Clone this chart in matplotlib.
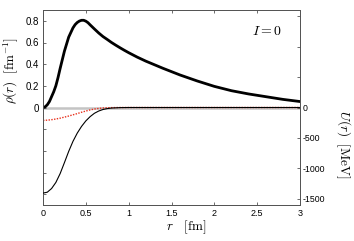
import numpy as np
import matplotlib
matplotlib.use("Agg")
import matplotlib.pyplot as plt
from matplotlib.ticker import FixedLocator, FixedFormatter

plt.rcParams['mathtext.fontset'] = 'cm'
plt.rcParams['font.family'] = ['Liberation Sans', 'DejaVu Sans']

# density rho(r)
r_rho = [0, 0.025, 0.05, 0.075, 0.1, 0.125, 0.15, 0.175, 0.2, 0.25, 0.3, 0.35, 0.375, 0.4, 0.425,
         0.45, 0.475, 0.5, 0.525, 0.55, 0.6, 0.65, 0.7, 0.75, 0.8, 0.85, 0.9, 0.95, 1.0, 1.1,
         1.2, 1.4, 1.6, 1.8, 2.0, 2.2, 2.4, 2.6, 2.8, 3.0]
rho = [0, 0.006, 0.025, 0.055, 0.10, 0.145, 0.20, 0.275, 0.36, 0.52, 0.65, 0.735, 0.765, 0.785, 0.798,
       0.805, 0.805, 0.797, 0.783, 0.763, 0.725, 0.688, 0.655, 0.628, 0.60, 0.575, 0.551, 0.528, 0.506, 0.465,
       0.428, 0.362, 0.30, 0.245, 0.195, 0.155, 0.125, 0.10, 0.075, 0.055]

# potential U(r) (thin black)
r_U = [0, 0.05, 0.1, 0.15, 0.2, 0.25, 0.3, 0.35, 0.4, 0.45, 0.5, 0.55, 0.6, 0.65, 0.7, 0.75,
       0.8, 0.9, 1.0, 1.5, 2.0, 2.5, 3.0]
U = [-1405, -1390, -1330, -1230, -1085, -905, -720, -555, -420, -310, -220, -150, -95, -58, -33, -18,
     -9, -2, 0, 0, 0, 0, 0]

# second potential (red dotted)
U_red = [-212, -208, -200, -189, -175, -158, -140, -120, -100, -78, -58, -40, -25, -15, -8, -4,
         -2, 0, 0, 0, 0, 0, 0]

xticks = [0, 0.5, 1, 1.5, 2, 2.5, 3]
xticklabels = ['0', '0.5', '1', '1.5', '2', '2.5', '3']
lticks = [-0.8, -0.6, -0.4, -0.2, 0, 0.2, 0.4, 0.6, 0.8]
lticklabels = ['', '', '', '', '0', '0.2', '0.4', '0.6', '0.8']
rticks = [-1500, -1000, -500, 0, 500, 1000, 1500]
rticklabels = ['-1500', '-1000', '-500', '0', '', '', '']

fig = plt.figure(figsize=(3.54, 2.41), dpi=100)
ax = fig.add_axes([43/354, 1-205/241, 257/354, 195/241])
ax2 = ax.twinx()

ax.axhline(0, color='#c4c4c4', lw=1.8, zorder=1)
ax.plot(r_rho, rho, color='black', lw=2.0, zorder=3, solid_joinstyle='round')
ax2.plot(r_U, U_red, color='#e8301c', lw=1.0, ls=(0, (1, 1)), zorder=2)
ax2.plot(r_U, U, color='black', lw=0.8, zorder=3)

ax.set_xlim(0, 3)
ax.set_ylim(-0.9, 0.9)
ax2.set_ylim(-1600, 1600)

ax.xaxis.set_major_locator(FixedLocator(xticks))
ax.xaxis.set_major_formatter(FixedFormatter(xticklabels))
ax.yaxis.set_major_locator(FixedLocator(lticks))
ax.yaxis.set_major_formatter(FixedFormatter(lticklabels))
ax2.yaxis.set_major_locator(FixedLocator(rticks))
ax2.yaxis.set_major_formatter(FixedFormatter(rticklabels))

ax.tick_params(axis='x', direction='in', top=True, length=2.5, width=0.5, labelsize=6.5, pad=3, colors='#333333', labelcolor='black')
ax.tick_params(axis='y', direction='in', length=2.5, width=0.5, labelsize=7, pad=3, colors='#333333', labelcolor='black')
ax2.tick_params(axis='y', direction='in', length=2.5, width=0.5, labelsize=6.3, pad=2, colors='#333333', labelcolor='black')

for a in (ax, ax2):
    for s in a.spines.values():
        s.set_color('#555555')
        s.set_linewidth(0.7)

ax.set_ylabel(r'$\rho(r)\ \ [\mathrm{fm}^{-1}]$', fontsize=9.5, va='center')
ax.yaxis.set_label_coords(-0.128, 0.69)
ax2.set_ylabel(r'$U(r)\ \ [\mathrm{MeV}]$', fontsize=9.5, rotation=-90, va='center')
ax2.yaxis.set_label_coords(1.167, 0.313)
ax.set_xlabel(r'$r\ \ \ [\mathrm{fm}]$', fontsize=9.5, va='center')
ax.xaxis.set_label_coords(0.556, -0.115)

ax.text(0.93, 0.89, r'$I=0$', transform=ax.transAxes, fontsize=10, ha='right', va='center')

fig.savefig('out.png', dpi=100)
